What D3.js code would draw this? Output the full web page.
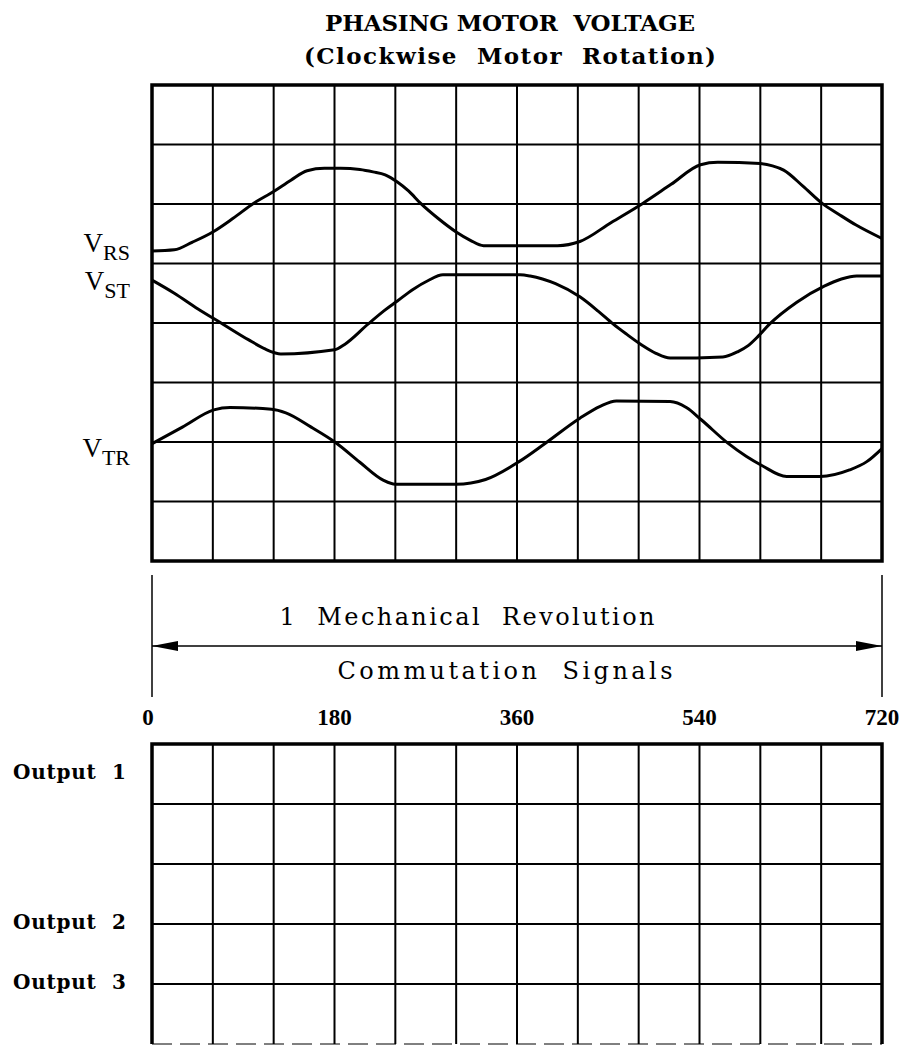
<!DOCTYPE html>
<html>
<head>
<meta charset="utf-8">
<script src="https://cdn.jsdelivr.net/npm/d3@7/dist/d3.min.js"></script>
<style>
  html, body { margin: 0; padding: 0; background: #fff; }
  svg { display: block; }
  .serif { font-family: "DejaVu Serif", "Liberation Serif", serif; fill: #000; }
  .times { font-family: "Liberation Serif", "DejaVu Serif", serif; fill: #000; }
</style>
</head>
<body>
<svg id="chart" width="904" height="1045"></svg>
<script>
// phase voltages, [electrical degrees, grid divisions from bottom]
var vRS = [[0,5.21],[22,5.23],[40,5.36],[60,5.53],[80,5.76],[100,6.01],[120,6.21],[137,6.40],
           [153,6.56],[170,6.60],[186,6.60],[205,6.58],[218,6.54],[230,6.49],[242,6.37],[253,6.22],
           [265,6.01],[282,5.76],[300,5.53],[314,5.39],[327,5.30],[363,5.30],[400,5.30],[422,5.37],
           [453,5.69],[484,6.01],[512,6.33],[541,6.66],[558,6.70],[600,6.68],[612,6.64],[623,6.57],
           [642,6.30],[661,6.01],[678,5.82],[694,5.65],[720,5.42]];
var vST = [[0,4.72],[22,4.50],[45,4.24],[70,3.98],[95,3.72],[112,3.56],[121,3.50],[127,3.48],
           [180,3.55],[190,3.64],[213,3.98],[230,4.22],[242,4.37],[257,4.56],[272,4.71],[287,4.81],
           [363,4.81],[373,4.79],[398,4.66],[422,4.44],[440,4.20],[455,3.98],[469,3.80],[483,3.63],
           [497,3.49],[511,3.41],[563,3.43],[578,3.52],[588,3.62],[598,3.78],[609,3.98],[636,4.35],
           [663,4.62],[680,4.74],[695,4.79],[720,4.79]];
var vTR = [[0,1.97],[30,2.25],[61,2.54],[77,2.58],[118,2.55],[132,2.49],[157,2.25],[182,1.98],
           [205,1.66],[228,1.36],[240,1.29],[300,1.29],[329,1.37],[362,1.67],[388,1.98],[422,2.40],
           [442,2.60],[458,2.69],[511,2.68],[527,2.58],[542,2.37],[568,1.98],[586,1.76],[601,1.61],
           [626,1.42],[659,1.42],[688,1.53],[705,1.67],[720,1.89]];

var phaseNames = [["V","RS"],["V","ST"],["V","TR"]];
var phaseLabelLevel = [5.2, 4.55, 1.75];

var tickDeg = [0, 180, 360, 540, 720];
var outputNames = ["Output 1", "Output 2", "Output 3"];
var outputLevel = [4.5, 2, 1];

var titleLines = ["PHASING MOTOR  VOLTAGE", "(Clockwise  Motor  Rotation)"];

var svg = d3.select("#chart");

var x = d3.scaleLinear().domain([0, 720]).range([152, 882]);
var yTop = d3.scaleLinear().domain([0, 8]).range([561, 85]);
var yBot = d3.scaleLinear().domain([0, 5]).range([1044, 744]);

function grid(y, rows) {
  var g = svg.append("g");
  g.selectAll("line.v").data(d3.range(60, 720, 60)).enter().append("line")
    .attr("x1", function(d) { return x(d); }).attr("x2", function(d) { return x(d); })
    .attr("y1", y(rows)).attr("y2", y(0))
    .attr("stroke", "#000").attr("stroke-width", 2);
  g.selectAll("line.h").data(d3.range(1, rows)).enter().append("line")
    .attr("x1", x(0)).attr("x2", x(720))
    .attr("y1", function(d) { return y(d); }).attr("y2", function(d) { return y(d); })
    .attr("stroke", "#000").attr("stroke-width", 2);
  return g;
}

// top panel
grid(yTop, 8);
svg.append("rect")
  .attr("x", x(0)).attr("y", yTop(8))
  .attr("width", x(720) - x(0)).attr("height", yTop(0) - yTop(8))
  .attr("fill", "none").attr("stroke", "#000").attr("stroke-width", 3.5);

var line = d3.line()
  .x(function(d) { return x(d[0]); })
  .y(function(d) { return yTop(d[1]); })
  .curve(d3.curveMonotoneX);

svg.selectAll("path.wave").data([vRS, vST, vTR]).enter().append("path")
  .attr("class", "wave")
  .attr("d", line)
  .attr("fill", "none").attr("stroke", "#000").attr("stroke-width", 3)
  .attr("stroke-linejoin", "round");

var pl = svg.selectAll("text.phase").data(phaseNames).enter().append("text")
  .attr("class", "times phase")
  .attr("text-anchor", "end")
  .attr("x", x(0) - 22)
  .attr("y", function(d, i) { return yTop(phaseLabelLevel[i]); })
  .style("font-size", "27px");
pl.append("tspan").text(function(d) { return d[0]; });
pl.append("tspan").attr("dy", 8).style("font-size", "22px").text(function(d) { return d[1]; });

// title
svg.selectAll("text.title").data(titleLines).enter().append("text")
  .attr("class", "serif title")
  .attr("x", 510).attr("y", function(d, i) { return 31 + i * 33; })
  .attr("text-anchor", "middle")
  .attr("textLength", function(d, i) { return i ? 412 : 370; })
  .attr("lengthAdjust", "spacing")
  .style("font-size", "23px").style("font-weight", "bold")
  .style("white-space", "pre")
  .text(function(d) { return d; });

// revolution span
svg.append("defs").selectAll("marker").data(["a-start", "a-end"]).enter().append("marker")
  .attr("id", function(d) { return d; })
  .attr("markerUnits", "userSpaceOnUse")
  .attr("viewBox", "0 -5 26 10").attr("refX", 26).attr("refY", 0)
  .attr("markerWidth", 26).attr("markerHeight", 10)
  .attr("orient", "auto-start-reverse")
  .append("path").attr("d", "M0,-5L26,0L0,5Z").attr("fill", "#000");

svg.selectAll("line.span").data([0, 720]).enter().append("line")
  .attr("x1", function(d) { return x(d); }).attr("x2", function(d) { return x(d); })
  .attr("y1", 575).attr("y2", 697)
  .attr("stroke", "#000").attr("stroke-width", 1.5);

svg.append("line")
  .attr("x1", x(0)).attr("x2", x(720)).attr("y1", 646).attr("y2", 646)
  .attr("stroke", "#000").attr("stroke-width", 1.5)
  .attr("marker-start", "url(#a-start)").attr("marker-end", "url(#a-end)");

svg.append("text").attr("class", "serif")
  .attr("x", 467).attr("y", 625).attr("text-anchor", "middle")
  .attr("textLength", 375).attr("lengthAdjust", "spacing")
  .style("font-size", "24px").style("white-space", "pre")
  .text("1  Mechanical  Revolution");

svg.append("text").attr("class", "serif")
  .attr("x", 505).attr("y", 679).attr("text-anchor", "middle")
  .attr("textLength", 335).attr("lengthAdjust", "spacing")
  .style("font-size", "24px").style("white-space", "pre")
  .text("Commutation  Signals");

svg.selectAll("text.tick").data(tickDeg).enter().append("text")
  .attr("class", "times tick")
  .attr("x", function(d) { return x(d) - (d === 0 ? 4 : 0); })
  .attr("y", 725).attr("text-anchor", "middle")
  .style("font-size", "23px").style("font-weight", "bold")
  .text(function(d) { return d; });

// bottom panel
grid(yBot, 5);
svg.append("path")
  .attr("d", "M" + x(0) + "," + yBot(0) + "V" + yBot(5) + "H" + x(720) + "V" + yBot(0))
  .attr("fill", "none").attr("stroke", "#000").attr("stroke-width", 3.5);
svg.append("line")
  .attr("x1", x(0)).attr("x2", x(720)).attr("y1", yBot(0)).attr("y2", yBot(0))
  .attr("stroke", "#000").attr("stroke-width", 1).attr("stroke-dasharray", "20,8");

svg.selectAll("text.out").data(outputNames).enter().append("text")
  .attr("class", "serif out")
  .attr("x", 13).attr("y", function(d, i) { return yBot(outputLevel[i]) + 5; })
  .attr("textLength", 113).attr("lengthAdjust", "spacing")
  .style("font-size", "20px").style("font-weight", "bold").style("white-space", "pre")
  .text(function(d) { return d.replace(" ", "  "); });
</script>
</body>
</html>
